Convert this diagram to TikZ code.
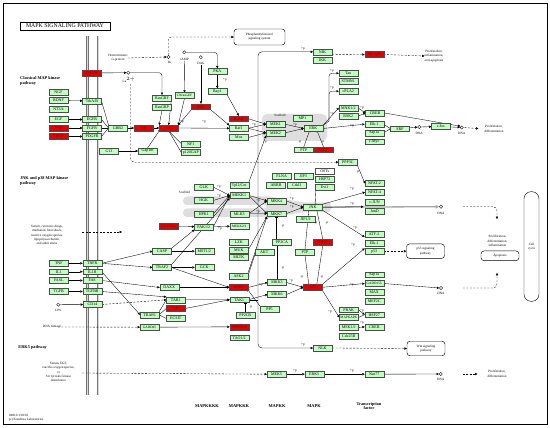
\documentclass[tikz,border=0pt]{standalone}
\usepackage{fontspec}
\setmainfont{Liberation Serif}
\usetikzlibrary{arrows.meta,calc}
\pgfdeclarelayer{shade}
\pgfdeclarelayer{edges}
\pgfsetlayers{shade,edges,main}
\definecolor{kgreen}{RGB}{191,255,191}
\definecolor{kred}{RGB}{230,0,0}
\definecolor{scaf}{RGB}{222,222,222}
\newcommand\fs{\fontsize{4}{4.2}\selectfont}
\newcommand\fss{\fontsize{3.4}{3.6}\selectfont}
\newcommand\ftx{\fontsize{3.3}{4.3}\selectfont}
\newcommand\fh{\fontsize{4.3}{4.7}\selectfont\bfseries}
\begin{document}
\begin{tikzpicture}[x=1pt,y=-1pt,
  gb/.style={draw=black!70,fill=kgreen,line width=0.35pt,minimum width=19pt,minimum height=5.8pt,inner sep=0pt,outer sep=0pt,font=\fs},
  rb/.style={gb,fill=kred,text=black!55!red},
  wb/.style={gb,fill=white},
  sm/.style={font=\fss},
  tx/.style={font=\ftx,inner sep=0pt,align=center},
  pl/.style={font=\fss,inner sep=0pt},
  hd/.style={font=\fh,inner sep=0pt,align=left},
  cir/.style={circle,draw,line width=0.35pt,minimum size=3.3pt,inner sep=0pt},
  pw/.style={draw,rounded corners=3pt,line width=0.45pt,align=center,font=\ftx,inner sep=0pt},
  ar/.style={-{Triangle[length=2.3pt,width=2.3pt]},line width=0.35pt},
  inh/.style={-{Bar[width=3pt]},line width=0.35pt},
  ln/.style={line width=0.35pt},
  da/.style={ar,dash pattern=on 2pt off 1.5pt},
]
\useasboundingbox (0,0) rectangle (550,428);
\begin{pgfonlayer}{shade}
\fill[white] (0,0) rectangle (550,428);
\draw[line width=0.6pt] (3,3) rectangle (547,424);
\foreach \mx in {87.5,98}{\draw[line width=2.6pt,black!55] (\mx,36)--(\mx,395); \draw[line width=0.8pt,black!15] (\mx,36)--(\mx,395);}
\fill[scaf,rounded corners=5pt] (262,114) rectangle (327,141);
\fill[scaf,rounded corners=4pt] (183,196.5) rectangle (272,205);
\fill[scaf,rounded corners=4pt] (183,208.5) rectangle (272,217);
\fill[scaf,rounded corners=3pt] (266,196) -- (304,202.5) -- (331,202.5) -- (331,212) -- (304,212) -- (266,218.5) -- cycle;
\end{pgfonlayer}

\node[draw,line width=0.7pt,minimum width=90pt,minimum height=8pt,inner sep=0pt,font=\fontsize{5.8}{5.8}\selectfont] (title) at (65,26) {MAPK SIGNALING PATHWAY};

% ---- classical
\node[hd,anchor=west] (hcl) at (20,81.3) {Classical MAP kinase\\pathway};
\node[tx] (het) at (118,58) {Heterotrimeric\\G-protein};
\node[gb] (NGF) at (58.5,92) {NGF};
\node[gb] (BDNF) at (58.5,100.5) {BDNF};
\node[gb] (NT34) at (58.5,109) {NT3/4};
\node[gb] (EGF) at (58.5,119.5) {EGF};
\node[rb] (FGF) at (58.5,128) {FGF};
\node[rb] (PDGF) at (58.5,136.5) {PDGF};
\node[rb] (CACN) at (92,73) {CACN};
\node[gb] (TrkAB) at (92,101) {TrkA/B};
\node[gb] (EGFR) at (92,119.5) {EGFR};
\node[gb] (FGFR) at (92,128) {FGFR};
\node[gb] (PDGFR) at (92,136.5) {PDGFR};
\node[gb] (GRB2) at (118,128) {GRB2};
\node[rb] (SOS) at (143.5,128) {SOS};
\node[rb] (Ras) at (168.7,128) {Ras};
\node[gb] (G13) at (109,151) {G13};
\node[gb] (Gap1m) at (147.5,151) {Gap1m};
\node[gb] (NF1) at (190.8,143.8) {NF1};
\node[gb] (p120) at (190.8,152.5) {p120GAP};
\node[gb] (RasGRF) at (162,97.8) {RasGRF};
\node[gb] (RasGRP) at (162,107.2) {RasGRP};
\node[gb,sm] (CNras) at (184.5,95.5) {CNrasGEF};
\node[rb] (PKC) at (201,106.7) {PKC};
\node[gb] (PKA) at (217.3,71.2) {PKA};
\node[gb] (Rap1) at (217.3,91.2) {Rap1};
\node[rb] (BRaf) at (238.8,118.7) {B-Raf};
\node[gb] (Raf1) at (238.8,128.3) {Raf1};
\node[gb] (Mos) at (238.8,137.5) {Mos};
\node[cir] (ca) at (128.3,72.7) {};
\node[tx] (caL) at (129,80) {Ca$^{2+}$};
\node[cir] (ri) at (168.5,57) {};
\node[tx] (riL) at (169.5,62.5) {Ri};
\node[cir] (camp) at (184.3,52.3) {};
\node[tx] (campL) at (184.3,59.3) {cAMP};
\node[cir] (dag) at (200.7,57.3) {};
\node[tx] (dagL) at (201,63.3) {DAG};
\node[pw,minimum width=51pt,minimum height=16pt] (pis) at (259.5,37) {Phosphatidylinositol\\signaling system};
\node[gb] (NIK) at (322.5,51.8) {NIK};
\node[gb] (IKK) at (322.5,60.5) {IKK};
\node[rb] (NFkB) at (374.2,54.5) {NF-$\kappa$B};
\node[tx] (prolif0) at (434,56) {Proliferation,\\inflammation,\\anti-apoptosis};
\node[gb] (Tau) at (348.3,73.3) {Tau};
\node[gb] (STMN1) at (348.3,81.5) {STMN1};
\node[gb] (cPLA2) at (348.3,91.2) {cPLA2};
\node[gb] (MNK) at (348.3,107.8) {MNK1/2};
\node[gb] (RSK2) at (348.3,116.2) {RSK2};
\node[gb] (CREB) at (375,113) {CREB};
\node[gb] (Elk1) at (374.2,124.2) {Elk-1};
\node[gb] (Sap1a) at (374.2,132.8) {Sap1a};
\node[gb] (cMyc) at (374.2,141.7) {c-Myc};
\node[gb] (SRF) at (400,128.7) {SRF};
\node[gb] (MP1) at (302.5,117.8) {MP1};
\node[gb] (MEK1) at (275.5,124.2) {MEK1};
\node[gb] (MEK2) at (275.5,132.8) {MEK2};
\node[gb] (ERK) at (313.3,128.5) {ERK};
\node[gb] (PTP) at (303.8,149.7) {PTP};
\node[rb] (MKP) at (323.5,149.7) {MKP};
\node[tx] (scaf1) at (280,115) {Scaffold};
\node[cir] (dna1) at (419.3,127) {};
\node[tx] (dna1L) at (419.3,133) {DNA};
\node[gb] (cfos) at (440.8,126.5) {c-fos};
\node[cir] (dna2) at (461.7,127.5) {};
\node[tx] (dna2L) at (461.7,133) {DNA};
\node[tx] (prolif1) at (494,129) {Proliferation,\\differentiation};

% ---- JNK / p38
\node[hd,anchor=west] (hjnk) at (20,181.2) {JNK and p38 MAP kinase\\pathway};
\node[tx] (stress) at (47,235) {Serum, cytotoxic drugs,\\irradiation, heat shock,\\reactive oxygen species,\\lipopolysaccharide,\\and other stress};
\coordinate (stA) at (82,232);
\coordinate (stB) at (122,232);
\node[gb] (PPP3C) at (347.8,162.2) {PPP3C};
\node[gb] (NFAT2) at (374.5,183.5) {NFAT-2};
\node[gb] (NFAT4) at (374.5,192.2) {NFAT-4};
\node[gb] (cJUN) at (374.5,202.2) {c-JUN};
\node[gb] (JunD) at (374.5,211.2) {JunD};
\node[gb] (JNK) at (312.8,207.2) {JNK};
\node[gb] (JIP) at (305.5,218.8) {JIP1/2};
\node[gb] (FLNA) at (281.7,176.2) {FLNA};
\node[gb] (JIP3) at (303.3,176.2) {JIP3};
\node[gb] (ARRB) at (276,185.5) {ARRB};
\node[gb] (CrkII) at (296.5,185.5) {CrkII};
\node[wb] (OSTs) at (324.7,171) {OSTs};
\node[gb] (HSP72) at (324.7,179.2) {HSP72};
\node[gb] (Evi1) at (324.7,187.5) {Evi1};
\node[gb] (MKK4) at (276.5,200.8) {MKK4};
\node[gb] (MKK7) at (276.5,213.7) {MKK7};
\node[gb] (PP2CA) at (282,242.2) {PP2CA};
\node[rb] (MKP2) at (322.8,242.2) {MKP};
\node[gb] (PTP2) at (305,252.2) {PTP};
\node[gb] (MKK3) at (277,282.5) {MKK3};
\node[gb] (MKK6) at (277,294.5) {MKK6};
\node[gb] (PP5) at (269.5,309) {PP5};
\node[rb] (p38) at (312.8,287.3) {p38};
\node[gb] (ATF2) at (374.2,234.2) {ATF-2};
\node[gb] (Elk1b) at (374.2,242.8) {Elk-1};
\node[gb] (p53) at (374.2,251.2) {p53};
\node[gb] (Sap1b) at (374.2,274.7) {Sap1a};
\node[gb,sm] (GADD153) at (374.2,283.5) {GADD153};
\node[gb] (MAX) at (374.2,292.5) {MAX};
\node[gb] (MEF2C) at (374.2,300.8) {MEF2C};
\node[gb] (PRAK) at (348.8,309.7) {PRAK};
\node[gb,sm] (MAPKAPK) at (348.8,317.5) {MAPKAPK};
\node[gb] (MSK) at (348.8,327.5) {MSK1/2};
\node[gb] (Cdc25B) at (348.8,335.8) {Cdc25B};
\node[gb] (HSP27) at (374.2,314.7) {HSP27};
\node[gb] (CREB2) at (374.2,326.8) {CREB};
\node[gb] (NLK) at (322.5,348) {NLK};
\node[pw,minimum width=38pt,minimum height=14.5pt] (wnt) at (426,348.5) {Wnt signaling\\pathway};
\node[pw,minimum width=38pt,minimum height=14.5pt] (p53p) at (425.5,251.2) {p53 signaling\\pathway};
\node[cir] (dnaJ) at (441,206.7) {};
\node[tx] (dnaJL) at (441,213) {DNA};
\node[tx] (pdi) at (497.5,241) {Proliferation,\\differentiation,\\inflammation};
\node[pw,minimum width=38pt,minimum height=9.7pt] (apop) at (500,255.8) {Apoptosis};
\node[cir] (dnaP) at (441,288) {};
\node[tx] (dnaPL) at (441,293.5) {DNA};
\node[pw,rounded corners=7pt,minimum width=15pt,minimum height=109.6pt] (cc) at (531.5,246.5) {Cell\\cycle};
\coordinate (jD) at (497,219);
\coordinate (aU) at (497,273);

\node[gb] (TNF) at (58.8,263.3) {TNF};
\node[gb] (IL1) at (58.8,271.7) {IL1};
\node[gb] (FASL) at (58.8,280.5) {FASL};
\node[gb] (TGFB) at (58.8,291.5) {TGFB};
\node[gb] (TNFR) at (92.2,263.3) {TNFR};
\node[gb] (IL1R) at (92.2,271.7) {IL1R};
\node[gb] (FAS) at (92.2,280.5) {FAS};
\node[gb] (TGFBR) at (92.2,291.5) {TGFBR};
\node[cir] (lps) at (58.3,304.7) {};
\node[tx] (lpsL) at (58.3,310) {LPS};
\node[gb] (CD14) at (92.5,304.5) {CD14};
\node[tx] (dnadmg) at (52,327) {DNA damage};
\node[gb] (CASP) at (162,251.2) {CASP};
\node[gb] (MST) at (204.2,251.2) {MST1/2};
\node[gb] (TRAF2) at (162,267.5) {TRAF2};
\node[gb] (GCK) at (204.2,267.5) {GCK};
\node[gb] (GLK) at (203.8,187.2) {GLK};
\node[gb] (HGK) at (203.8,200.5) {HGK};
\node[gb] (HPK1) at (203.8,213.8) {HPK1};
\node[gb] (PAK) at (203.8,226.8) {PAK1/2};
\node[rb,sm] (Cdc42) at (168.8,226.3) {Cdc42/Rac};
\node[tx] (scaf2) at (184.5,192.7) {Scaffold};
\node[gb] (Tpl2) at (239.2,185.5) {Tpl2/Cot};
\node[gb] (MEKK1) at (239.2,195.3) {MEKK1};
\node[gb] (MLK3) at (239.2,213.8) {MLK3};
\node[gb,sm] (MEKK23) at (239.2,226.3) {MEKK2/3};
\node[gb] (LZK) at (238.8,241.8) {LZK};
\node[gb] (MUK) at (238.8,249.8) {MUK};
\node[gb] (MLTK) at (238.8,257.5) {MLTK};
\node[gb] (AKT) at (264.2,252.2) {AKT};
\node[gb] (ASK2) at (238.5,275.8) {ASK2};
\node[rb] (ASK1) at (238.8,287.5) {ASK1};
\node[gb] (DAXX) at (169.2,287.5) {DAXX};
\node[gb] (TAB1) at (175.8,299.8) {TAB1};
\node[rb] (TAB2) at (175.8,308.5) {TAB2};
\node[gb] (TRAF6) at (149.5,314.8) {TRAF6};
\node[gb] (ECSIT) at (175.8,318.5) {ECSIT};
\node[gb,sm] (GADD45) at (149.5,327.2) {GADD45};
\node[gb] (TAK1) at (239.2,299.7) {TAK1};
\node[gb] (PP2CB) at (245.2,315.2) {PP2CB};
\node[rb] (MEKK4) at (239.2,326.8) {MEKK4};
\node[gb] (TAO) at (239.2,337.7) {TAO1/2};
\coordinate (tk) at (258,299.7);

% ---- ERK5
\node[hd,anchor=west] (herk5) at (18.3,347) {ERK5 pathway};
\node[tx] (serum) at (58.5,372) {Serum, EGF,\\reactive oxygen species,\\or\\Src tyrosine kinase\\disturbance};
\coordinate (s5) at (82,373);
\node[gb] (MEK5) at (276.5,374.2) {MEK5};
\node[gb] (ERK5) at (314.2,374.2) {ERK5};
\node[gb] (Nur77) at (374.2,374.2) {Nur77};
\node[cir] (dna5) at (440.7,374) {};
\node[tx] (dna5L) at (440.7,379.5) {DNA};
\node[tx] (prolif5) at (497,374) {Proliferation,\\differentiation};

% ---- bottom labels
\node[hd,font=\fontsize{4.4}{4.8}\selectfont\bfseries] (lk4) at (207,406) {MAPKKKK};
\node[hd,font=\fontsize{4.4}{4.8}\selectfont\bfseries] (lk3) at (239,406) {MAPKKK};
\node[hd,font=\fontsize{4.4}{4.8}\selectfont\bfseries] (lk2) at (277,406) {MAPKK};
\node[hd,font=\fontsize{4.4}{4.8}\selectfont\bfseries] (lk1) at (314,406) {MAPK};
\node[hd,align=center,font=\fontsize{4.2}{4.8}\selectfont\bfseries] (ltf) at (369,406) {Transcription\\factor};
\node[tx,anchor=west,align=left] (cpy) at (9,418) {04010 1/10/16\\(c) Kanehisa Laboratories};

% ---- +p / -p
\foreach \n/\px/\py in {1/225/80,2/182/121.5,3/204/121.5,4/254/125,5/295/125,6/332/113.5,7/332/71,8/332/88,9/362/108,10/352/125.5,11/303/49,12/352/188.5,13/352/203.5,14/355/228,15/353/245,16/352/285,17/330/312,18/362/311,19/362/322.5,20/291.7/199,21/291.7/207,22/291/281,23/219/186.5,24/219/196,25/258/201,26/258/212,27/220/228.5,28/261/284.5,29/265/142,30/303/345,31/295/371,32/352/371}
  \node[pl] (pp\n) at (\px,\py) {+p};
\foreach \n/\px/\py in {1/300/142,2/323/142,3/358/172.5,4/316/223,5/327/223,6/302/277,7/322/277,8/283/226,9/283/268,10/251/307}
  \node[pl] (pm\n) at (\px,\py) {-p};

\begin{pgfonlayer}{edges}
\draw[ar] (BDNF) -- (TrkAB);
\draw[ar] (EGF) -- (EGFR);
\draw[ar] (FGF) -- (FGFR);
\draw[ar] (PDGF) -- (PDGFR);
\draw[ln] (TrkAB.east) -- (GRB2.north west);
\draw[ln] (EGFR.east) -- (GRB2.west);
\draw[ln] (FGFR.east) -- (GRB2.west);
\draw[ln] (PDGFR.east) -- (GRB2.west);
\draw[ar] (GRB2) -- (SOS);
\draw[ar] (SOS) -- (Ras);
\draw[ar] (CACN) -- (ca);
\draw[da] (het.east) -- (ri.west);
\draw[da,rounded corners=3pt] (ri.north) |- (pis.west);
\draw[ar,rounded corners=3pt] (ca.east) -| (RasGRF.north);
\coordinate (caD) at (130.5,84);
\draw[da,rounded corners=4pt] (caD) |- (PPP3C.west);
\draw[ar,rounded corners=3pt] (camp.east) -| (PKA.north);
\draw[ar] (campL.south) -- (CNras.north);
\draw[ar] (dagL.south) -- (PKC.north);
\draw[ar] (PKA) -- (Rap1);
\draw[ar] (Rap1.south east) -- (BRaf.north);
\draw[ar] (PKC.south east) -- (Raf1.north west);
\draw[ar] (PKC.south west) -- (Ras.north east);
\draw[ar] (RasGRF.east) -- (Ras.north);
\draw[ar] (RasGRP.south) -- (Ras.north west);
\draw[ar] (CNras.south) -- (Ras.north east);
\draw[ar] (Ras.east) -- (Raf1.west);
\draw[inh] (Gap1m.north) -- (Ras.south west);
\draw[inh] (NF1.west) -- (Ras.south);
\draw[inh] (p120.west) -- (Ras.south);
\draw[ar] (G13) -- (Gap1m);
\draw[ar] (BRaf.east) -- (MEK1.west);
\draw[ar] (Raf1.east) -- (MEK1.west);
\draw[ar] (Raf1.east) -- (MEK2.west);
\draw[ar] (Mos.east) -- (MEK2.west);
\draw[ar] (MEK1.east) -- (ERK.west);
\draw[ar] (MEK2.east) -- (ERK.west);
\draw[ar] (ERK.east) -- (Elk1.west);
\draw[ar] (ERK.north east) -- (MNK.west);
\coordinate (eU) at (329,121);
\draw[ln] (ERK.north east) -- (eU);
\draw[ar,rounded corners=3pt] (eU) |- (Tau.west);
\draw[ar,rounded corners=3pt] (eU) |- (cPLA2.west);
\draw[ar] (MNK.east) -- (CREB.west);
\draw[ar] (RSK2.east) -- (CREB.west);
\draw[ln] (Elk1.east) -- (SRF.west);
\draw[ln] (Sap1a.east) -- (SRF.west);
\draw[ar] (SRF) -- (dna1);
\draw[ar] (dna1) -- (cfos);
\draw[ar] (cfos) -- (dna2);
\draw[ar] (CREB.east) -- (dna2.north west);
\draw[da,shorten <=1pt,shorten >=6pt] (dna2.east) -- (prolif1.west);
\draw[da] (NIK.south east) -- (NFkB.west);
\draw[da] (NFkB.east) -- (prolif0.west);
\draw[inh] (PTP.north) -- ($(ERK.south)+(-4,0)$);
\draw[inh] (MKP.north) -- ($(ERK.south)+(4,0)$);
\draw[ln] (TAK1.east) -- (tk);
\draw[ar,rounded corners=4pt] (tk) |- (NIK.west);
\draw[ar,rounded corners=4pt] (tk) |- (NLK.west);
\draw[da] (NLK.east) -- (wnt.west);
\draw[ar] (PPP3C.south east) -- (NFAT2.west);
\draw[ar] (JNK.north east) -- (NFAT4.west);
\coordinate (cj) at (363.5,206.7);
\draw[line width=1.3pt,black!35,-{Triangle[length=3.5pt,width=3.5pt]}] (JNK.east) -- (dnaJ.west);
\draw[ar] (JNK.east) -- (cj);
\draw[ar] (JNK.south east) -- (ATF2.south west);
\draw[ar] (p38.north east) -- (p53.north west);
\draw[ar] (p38.east) -- (GADD153.west);
\draw[ar] (p38.south east) -- (MAPKAPK.west);
\draw[ar] (PRAK.east) -- (HSP27.west);
\draw[ln] (MAPKAPK.east) -- (HSP27.west);
\draw[ar] (MSK.east) -- (CREB2.west);
\draw[ar] (GADD153.east) -- (dnaP.west);
\draw[da] (p53.east) -- (p53p.west);
\draw[da,rounded corners=4pt,shorten <=20pt] (dnaJ.east) -| (jD);
\draw[da,rounded corners=4pt,shorten <=20pt] (dnaP.east) -| (aU);
\draw[ar] (MKK4.east) -- (JNK.west);
\draw[ar] (MKK7.east) -- (JNK.west);
\draw[ar] (MKK3.east) -- (p38.west);
\draw[ar] (MKK6.east) -- (p38.west);
\draw[inh] (PTP2.north) -- ($(JNK.south)+(-4,0)$);
\draw[inh] (MKP2.north) -- ($(JNK.south)+(4,0)$);
\draw[inh] (PTP2.south) -- ($(p38.north)+(-4,0)$);
\draw[inh] (MKP2.south) -- ($(p38.north)+(4,0)$);
\draw[inh] (PP2CA.north -| MKK7.south) -- (MKK7.south);
\draw[inh] (PP2CA.south -| MKK3.north) -- (MKK3.north);
\draw[inh] (Evi1.south west) -- ($(JNK.north)+(3,0)$);
\draw[ar] (GLK.east) -- (MEKK1.west);
\draw[ar] (HGK.east) -- (MEKK1.west);
\draw[ar] (HPK1.east) -- (MEKK1.west);
\draw[ar] (PAK.east) -- (MEKK1.west);
\draw[ar] (PAK.east) -- (MEKK23.west);
\draw[ar] (Cdc42) -- (PAK);
\draw[ar] (CASP.north east) -- (PAK.south west);
\draw[ar] (TRAF2.north east) -- (MEKK1.south west);
\draw[ar] (CASP) -- (MST);
\draw[ar] (TRAF2) -- (GCK);
\draw[ar] (TRAF2.east) -- (ASK1.west);
\draw[ar] (MEKK1.east) -- (MKK4.west);
\draw[ar] (MEKK1.east) -- (MKK7.west);
\draw[ar] (MLK3.east) -- (MKK7.west);
\draw[ar] (MLK3.east) -- (MKK4.west);
\draw[ar] (MUK.east) -- (MKK7.south west);
\draw[ar] (ASK2.north east) -- (MKK7.south west);
\draw[ar] (ASK1.east) -- (MKK3.west);
\draw[ar] (TAK1.east) -- (MKK6.west);
\draw[inh] (AKT.south west) -- (ASK2.east);
\draw[inh] (PP5.north west) -- (ASK1.south east);
\draw[ar] (Tpl2.north east) -- (MEK2.south west);
\draw[ar] (DAXX.east) -- (ASK1.west);
\draw[ar] (TAB1.east) -- (TAK1.west);
\draw[ar] (TAB2.east) -- (TAK1.west);
\draw[ln] (TRAF6.north east) -- (TAB1.west);
\draw[ln] (TRAF6.east) -- (TAB2.west);
\draw[ln] (TRAF6.east) -- (ECSIT.west);
\draw[inh] (PP2CB.north) -- (PP2CB.north |- TAK1.south);
\draw[ar] (GADD45) -- (MEKK4);
\draw[ar] (TNF) -- (TNFR);
\draw[ar] (IL1) -- (IL1R);
\draw[ar] (FASL) -- (FAS);
\draw[ar] (TGFB) -- (TGFBR);
\draw[ar] (lps) -- (CD14);
\draw[ar] (TNFR.east) -- (CASP.west);
\draw[ar] (TNFR.east) -- (TRAF2.west);
\draw[ar] (IL1R.east) -- (TRAF6.west);
\draw[ar] (FAS.east) -- (DAXX.west);
\draw[ar] (TGFBR.east) -- (TAB1.north west);
\draw[da] (CD14.east) -- (TAB1.west);
\draw[da] (dnadmg.east) -- (GADD45.west);
\draw[da] (stA) -- (stB);
\draw[da] (s5) -- (MEK5.west);
\draw[ar] (MEK5) -- (ERK5);
\draw[ar] (ERK5) -- (Nur77);
\draw[ar] (Nur77) -- (dna5);
\draw[da,shorten <=20pt,shorten >=10pt] (dna5.east) -- (prolif5.west);
\end{pgfonlayer}
\end{tikzpicture}
\end{document}
